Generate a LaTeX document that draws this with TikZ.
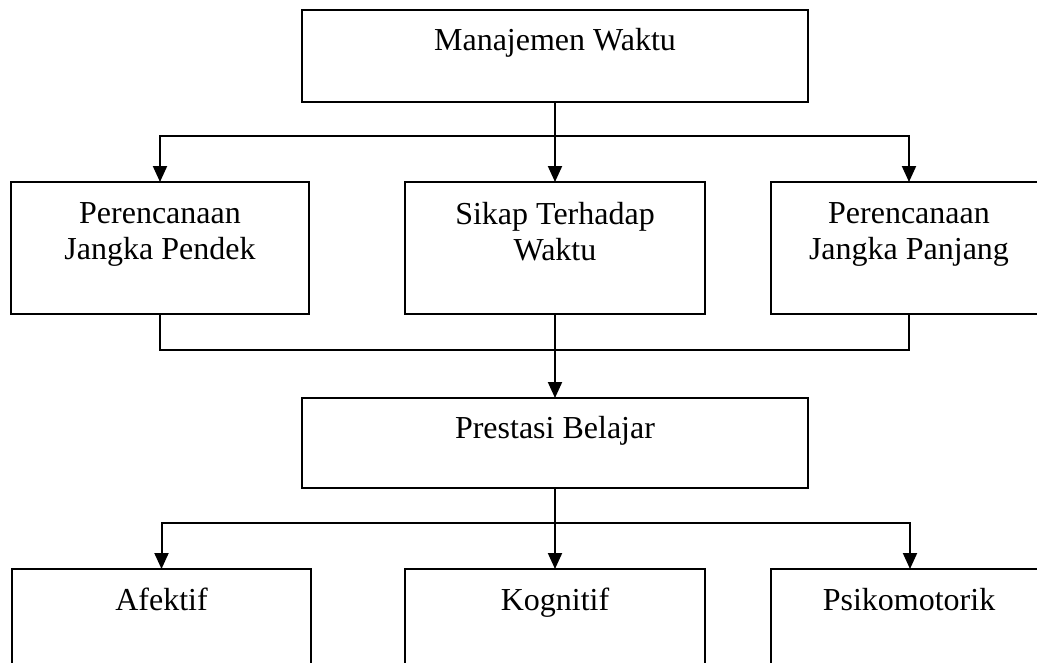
\documentclass[tikz,border=0pt]{standalone}
\usepackage{fontspec}
\setmainfont{Liberation Serif}
\usetikzlibrary{arrows.meta}
\begin{document}
\begin{tikzpicture}[x=1pt,y=-1pt,
  box/.style={draw,line width=2pt,inner sep=0pt,outer sep=0pt},
  lbl/.style={font=\fontsize{32}{36}\selectfont,align=center,inner sep=0pt},
  link/.style={line width=2pt},
  arr/.style={line width=2pt,-{Triangle[length=16pt,width=14pt]}}]
\clip (0,0) rectangle (1037,662);
% top box
\node[box,minimum width=506pt,minimum height=92pt] (mw) at (555,56) {};
\node[lbl,anchor=base] (tmw) at (555,50) {Manajemen Waktu};
% row 2
\node[box,minimum width=298pt,minimum height=132pt] (pd) at (160,248) {};
\node[box,minimum width=300pt,minimum height=132pt] (sk) at (555,248) {};
\node[box,minimum width=276pt,minimum height=132pt] (pp) at (909,248) {};
\node[lbl,anchor=north] (tpd) at (160,202) {Perencanaan\\Jangka Pendek};
\node[lbl,anchor=north] (tsk) at (555,202) {Sikap Terhadap\\Waktu};
\node[lbl,anchor=north] (tpp) at (909,202) {Perencanaan\\Jangka Panjang};
% prestasi
\node[box,minimum width=506pt,minimum height=90pt] (pb) at (555,443) {};
\node[lbl,anchor=base] (tpb) at (555,438) {Prestasi Belajar};
% bottom row
\node[box,minimum width=299pt,minimum height=131pt] (af) at (161.5,634.5) {};
\node[box,minimum width=300pt,minimum height=131pt] (kg) at (555,634.5) {};
\node[box,minimum width=278pt,minimum height=131pt] (ps) at (910,634.5) {};
\node[lbl,anchor=base] (taf) at (161.5,610) {Afektif};
\node[lbl,anchor=base] (tkg) at (555,610) {Kognitif};
\node[lbl,anchor=base] (tps) at (909,610) {Psikomotorik};
% connectors
\coordinate (j1) at (555,136);
\coordinate (j2) at (555,350);
\coordinate (j3) at (555,523);
\draw[link] (mw.south) -- (j1);
\draw[arr] (j1) -| (pd.north);
\draw[arr] (j1) -| (pp.north);
\draw[arr] (j1) -- (sk.north);
\draw[link] (pd.south) |- (j2);
\draw[link] (pp.south) |- (j2);
\draw[link] (sk.south) -- (j2);
\draw[arr] (j2) -- (pb.north);
\draw[link] (pb.south) -- (j3);
\draw[arr] (j3) -| (af.north);
\draw[arr] (j3) -| (ps.north);
\draw[arr] (j3) -- (kg.north);
\end{tikzpicture}
\end{document}
